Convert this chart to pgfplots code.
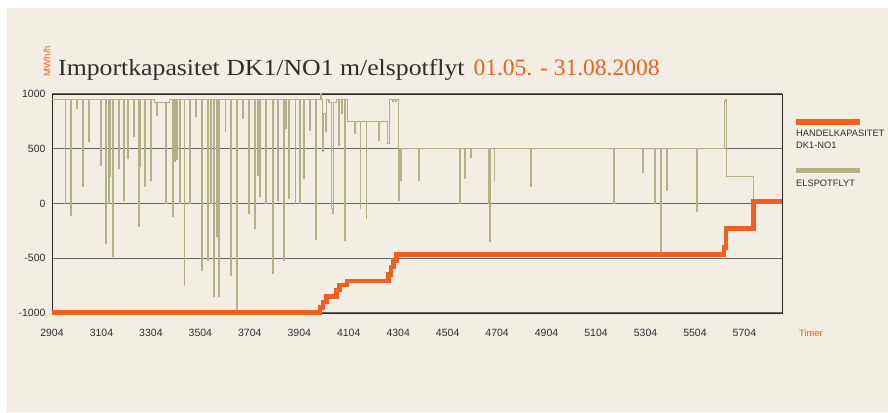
\documentclass[border=0pt]{standalone}
\usepackage{pgfplots}
\pgfplotsset{compat=1.18}
\usepackage{fontspec}
\setmainfont{Liberation Sans}
\newfontfamily\titlefont[FakeStretch=1.12]{Liberation Serif}
\newfontfamily\datefont{Liberation Serif}
\definecolor{bgbeige}{HTML}{F2EEE4}
\definecolor{handel}{HTML}{F15F22}
\definecolor{spot}{HTML}{B4AF86}
\definecolor{txt}{HTML}{2E2E2E}

\begin{document}
\begin{tikzpicture}
  \fill[white] (0,0) rectangle (888pt,412pt);
  \fill[bgbeige] (7pt,0) rectangle (888pt,404pt);

  % title and unit
  \node[anchor=base west,inner sep=0pt,text=txt] at (58pt,336pt)
    {\titlefont\fontsize{23}{26}\selectfont Importkapasitet DK1/NO1 m/elspotflyt\hspace{9pt}{\datefont\fontsize{23.5}{26}\selectfont\color{handel}01.05. - 31.08.2008}};
  \node[rotate=90,inner sep=0pt,text=handel] at (47pt,351pt)
    {\fontsize{9.5}{10}\selectfont MWh/h};

  \begin{axis}[
      at={(52pt,99pt)}, anchor=south west,
      scale only axis, width=730pt, height=219pt,
      xmin=2904, xmax=5856, ymin=-1000, ymax=1000,
      xtick={2904,3104,3304,3504,3704,3904,4104,4304,4504,4704,4904,5104,5304,5504,5704},
      xticklabels={2904,3104,3304,3504,3704,3904,4104,4304,4504,4704,4904,5104,5304,5504,5704},
      ytick={-1000,-500,0,500,1000},
      yticklabels={-1000,-500,0,500,1000},
      major tick length=0pt,
      ymajorgrids, grid style={line width=1.2pt, color=black!60},
      axis line style={line width=0.9pt, color=black!85},
      tick label style={font=\fontsize{10.5}{12}\selectfont, text=txt},
      xticklabel style={yshift=-13pt},
      yticklabel style={xshift=-3pt},
      clip=false,
    ]
    % ELSPOTFLYT
    \addplot[spot, line width=1.1pt] coordinates {
      (2904,948)
      (2957,948)(2957,0)(2960,0)(2960,948)
      (2980,948)(2980,-105)(2983,-105)(2983,948)
      (3004,948)(3004,870)(3007,870)(3007,948)
      (3028,948)(3028,154)(3031,154)(3031,948)
      (3052,948)(3052,565)(3055,565)(3055,948)
      (3101,948)(3101,352)(3104,352)(3104,948)
      (3122,948)(3122,-363)(3125,-363)(3125,948)
      (3132,948)(3132,0)(3135,0)(3135,948)
      (3139,948)(3139,245)(3141,245)(3141,948)
      (3148,948)(3148,-485)(3151,-485)(3151,948)
      (3172,948)(3172,322)(3175,322)(3175,948)
      (3195,948)(3195,32)(3198,32)(3198,948)
      (3210,948)(3210,413)(3213,413)(3213,948)
      (3233,948)(3233,610)(3236,610)(3236,948)
      (3256,948)(3256,-212)(3258,-212)(3258,948)
      (3260,948)(3260,336)(3263,336)(3263,948)
      (3280,948)(3280,154)(3283,154)(3283,948)
      (3304,948)(3304,215)(3307,215)(3307,948)
      (3318,948)(3318,922)
      (3327,922)(3327,808)(3330,808)(3330,922)
      (3365,922)(3365,0)(3368,0)(3368,922)
      (3380,922)(3380,948)
      (3391,948)(3391,-120)(3394,-120)(3394,948)
      (3399,948)(3399,382)(3402,382)(3402,948)
      (3408,948)(3408,400)(3411,400)(3411,948)
      (3419,948)(3419,0)(3422,0)(3422,948)
      (3438,948)(3438,-744)(3441,-744)(3441,948)
      (3462,948)(3462,0)(3465,0)(3465,948)
      (3485,948)(3485,793)(3488,793)(3488,948)
      (3509,948)(3509,-607)(3512,-607)(3512,948)
      (3534,948)(3534,-516)(3537,-516)(3537,948)
      (3546,948)(3546,0)(3549,0)(3549,948)
      (3556,948)(3556,-851)(3559,-851)(3559,948)
      (3570,948)(3570,-300)(3573,-300)(3573,948)
      (3579,948)(3579,-851)(3582,-851)(3582,948)
      (3604,948)(3604,656)(3607,656)(3607,948)
      (3628,948)(3628,-653)(3631,-653)(3631,948)
      (3651,948)(3651,-1000)(3654,-1000)(3654,948)
      (3675,948)(3675,778)(3678,778)(3678,948)
      (3698,948)(3698,-89)(3701,-89)(3701,948)
      (3722,948)(3722,-226)(3725,-226)(3725,948)
      (3734,948)(3734,260)(3737,260)(3737,948)
      (3745,948)(3745,62)(3748,62)(3748,948)
      (3769,948)(3769,0)(3772,0)(3772,948)
      (3795,948)(3795,-637)(3798,-637)(3798,948)
      (3815,948)(3815,32)(3818,32)(3818,948)
      (3840,948)(3840,-516)(3843,-516)(3843,948)
      (3849,948)(3849,687)(3852,687)(3852,948)
      (3861,948)(3861,48)(3864,48)(3864,948)
      (3887,948)(3887,0)(3890,0)(3890,948)
      (3907,948)(3907,0)(3910,0)(3910,948)
      (3920,948)(3920,230)(3923,230)(3923,948)
      (3945,948)(3945,671)(3948,671)(3948,948)
      (3970,948)(3970,-327)(3973,-327)(3973,948)
      (3989,948)(3989,1000)(3993,1000)(3993,948)
      (3999,948)(3999,473)(4002,473)(4002,820)(4012,820)(4012,656)(4015,656)(4015,948)
      (4024,948)(4024,920)(4035,920)(4035,-44)(4039,-44)(4039,-89)(4042,-89)(4042,920)(4055,920)(4055,948)
      (4062,948)(4062,534)(4065,534)(4065,948)
      (4076,948)(4076,820)(4080,820)(4080,948)
      (4086,948)(4086,-333)(4089,-333)(4089,948)
      (4100,948)(4100,750)
      (4129,750)(4129,640)(4132,640)(4132,750)
      (4150,750)(4150,-44)(4153,-44)(4153,750)
      (4174,750)(4174,-135)(4177,-135)(4177,750)
      (4224,750)(4224,580)(4227,580)(4227,750)
      (4260,750)(4260,550)(4270,550)(4270,948)
      (4280,948)(4280,930)(4285,930)(4285,948)(4294,948)(4294,930)(4298,930)(4298,948)
      (4306,948)(4306,30)(4309,30)(4309,500)
      (4315,500)(4315,215)(4318,215)(4318,500)
      (4386,500)(4386,215)(4389,215)(4389,500)
      (4551,500)(4551,0)(4554,0)(4554,500)
      (4574,500)(4574,230)(4577,230)(4577,500)
      (4597,500)(4597,420)(4600,420)(4600,500)
      (4668,500)(4668,0)(4671,0)(4671,500)
      (4675,500)(4675,-350)(4678,-350)(4678,500)
      (4692,500)(4692,200)(4695,200)(4695,500)
      (4839,500)(4839,154)(4842,154)(4842,500)
      (5174,500)(5174,0)(5177,0)(5177,500)
      (5292,500)(5292,282)(5295,282)(5295,500)
      (5342,500)(5342,0)(5345,0)(5345,500)
      (5365,500)(5365,-455)(5368,-455)(5368,500)
      (5389,500)(5389,123)(5392,123)(5392,500)
      (5511,500)(5511,-75)(5514,-75)(5514,500)
      (5624,500)(5624,930)(5628,930)(5628,945)(5631,945)(5631,250)
      (5740,250)(5740,0)(5856,0)
    };
    % HANDELKAPASITET DK1-NO1
    \addplot[handel, line width=4.5pt] coordinates {
      (2904,-995)(3988,-995)(3988,-950)(3999,-950)(3999,-900)(4015,-900)
      (4015,-850)(4055,-850)(4055,-790)(4066,-790)(4066,-745)(4096,-745)
      (4096,-708)(4264,-708)(4264,-650)(4274,-650)(4274,-580)(4284,-580)
      (4284,-520)(4298,-520)(4298,-466)(5622,-466)(5622,-400)(5630,-400)
      (5630,-230)(5740,-230)(5740,20)(5856,20)
    };
  \end{axis}

  % legend
  \fill[handel] (796pt,287pt) rectangle (860pt,293pt);
  \node[anchor=base west,inner sep=0pt,text=txt,font=\fontsize{9.3}{11.5}\selectfont]
    at (796pt,275pt) {HANDELKAPASITET};
  \node[anchor=base west,inner sep=0pt,text=txt,font=\fontsize{9.3}{11.5}\selectfont]
    at (796pt,263.5pt) {DK1-NO1};
  \fill[spot] (796pt,238.5pt) rectangle (860pt,243.5pt);
  \node[anchor=base west,inner sep=0pt,text=txt,font=\fontsize{9.3}{11.5}\selectfont]
    at (796pt,225pt) {ELSPOTFLYT};
  \node[anchor=west,inner sep=0pt,text=handel,font=\fontsize{9.3}{11.5}\selectfont]
    at (799pt,79pt) {Timer};

  \pgfresetboundingbox
  \useasboundingbox (0,0) rectangle (888pt,412pt);
\end{tikzpicture}
\end{document}
